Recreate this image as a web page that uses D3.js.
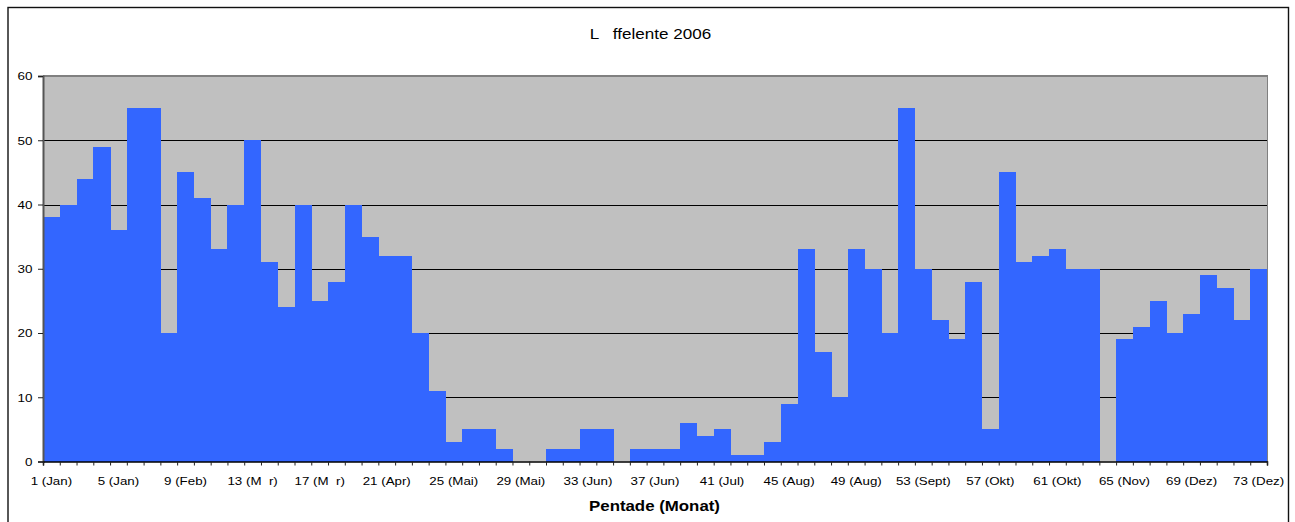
<!DOCTYPE html>
<html>
<head>
<meta charset="utf-8">
<script src="https://cdn.jsdelivr.net/npm/d3@7"></script>
<style>
  html, body { margin: 0; padding: 0; background: #fff; }
  svg { display: block; }
  text { font-family: "Liberation Sans", Arial, sans-serif; white-space: pre; }
</style>
</head>
<body>
<script>
// ---- data ----
const title = "L   ffelente 2006";
const xTitle = "Pentade (Monat)";
const pentades = [1,2,3,4,5,6,7,8,9,10,11,12,13,14,15,16,17,18,19,20,21,22,23,24,25,26,27,28,29,30,31,32,33,34,35,36,37,38,39,40,41,42,43,44,45,46,47,48,49,50,51,52,53,54,55,56,57,58,59,60,61,62,63,64,65,66,67,68,69,70,71,72,73];
const values = [38,40,44,49,36,55,55,20,45,41,33,40,50,31,24,40,25,28,40,35,32,32,20,11,3,
                5,5,2,0,0,2,2,5,5,0,2,2,2,6,4,5,1,1,3,9,
                33,17,10,33,30,20,55,30,22,19,28,5,45,31,32,33,30,30,0,19,21,25,20,23,29,27,22,30];
const labelPentades = [1,5,9,13,17,21,25,29,33,37,41,45,49,53,57,61,65,69,73];
const labelTexts = ["1 (Jan)","5 (Jan)","9 (Feb)","13 (M  r)","17 (M  r)","21 (Apr)","25 (Mai)","29 (Mai)","33 (Jun)","37 (Jun)","41 (Jul)","45 (Aug)","49 (Aug)","53 (Sept)","57 (Okt)","61 (Okt)","65 (Nov)","69 (Dez)","73 (Dez)"];
const yTicks = [0,10,20,30,40,50,60];

// ---- layout ----
const W = 1295, H = 522;
const m = {left: 43, right: 1267, top: 76, bottom: 461.5};
const SX = 1.17; // horizontal text stretch of the original image

const svg = d3.select("body").append("svg").attr("width", W).attr("height", H);

// outer chart border
svg.append("rect").attr("x", 8).attr("y", 7.5).attr("width", 1280.5).attr("height", 530)
  .attr("fill", "#fff").attr("stroke", "#111").attr("stroke-width", 1.4);

const x = d3.scaleBand().domain(pentades).range([m.left, m.right]).padding(0);
const xl = d3.scaleLinear().domain([0, pentades.length]).range([m.left, m.right]);
const y = d3.scaleLinear().domain([0, 60]).range([m.bottom, m.top]);

// plot area
svg.append("rect").attr("x", m.left).attr("y", m.top)
  .attr("width", m.right - m.left).attr("height", m.bottom - m.top)
  .attr("fill", "#C0C0C0");

// gridlines
svg.append("g").selectAll("line").data(yTicks.filter(d => d > 0 && d < 60)).join("line")
  .attr("x1", m.left).attr("x2", m.right)
  .attr("y1", d => Math.round(y(d)) + 0.5).attr("y2", d => Math.round(y(d)) + 0.5)
  .attr("stroke", "#000").attr("stroke-width", 1);

// bars
svg.append("g").attr("shape-rendering", "crispEdges")
  .selectAll("rect").data(values).join("rect")
  .attr("x", (d, i) => x(pentades[i]))
  .attr("width", x.bandwidth() + 0.5)
  .attr("y", d => y(d))
  .attr("height", d => m.bottom - y(d))
  .attr("fill", "#3366FF");

// plot borders
svg.append("line").attr("x1", m.left).attr("x2", m.right + 1).attr("y1", m.top).attr("y2", m.top)
  .attr("stroke", "#808080").attr("stroke-width", 2);
svg.append("line").attr("x1", m.right + 0.5).attr("x2", m.right + 0.5).attr("y1", m.top).attr("y2", m.bottom)
  .attr("stroke", "#808080").attr("stroke-width", 1);

// y axis
const yAxis = svg.append("g").attr("transform", `translate(${m.left},0)`)
  .call(d3.axisLeft(y).tickValues(yTicks).tickSize(5).tickPadding(0).tickFormat(d3.format("d")));
yAxis.select(".domain").attr("stroke", "#555").attr("stroke-width", 2);
yAxis.selectAll(".tick line").attr("stroke", "#222");
yAxis.selectAll(".tick text")
  .attr("x", -9).attr("dy", "0.33em")
  .attr("transform", `scale(${SX},1)`)
  .attr("font-size", 11.5).attr("fill", "#000");

// x axis tick marks at category boundaries
const xTickAxis = svg.append("g").attr("transform", `translate(0,${m.bottom})`)
  .call(d3.axisBottom(xl).tickValues(d3.range(0, pentades.length + 1)).tickSize(4).tickFormat(""));
xTickAxis.select(".domain").attr("stroke", "#000").attr("stroke-width", 1.5);
xTickAxis.selectAll(".tick line").attr("stroke", "#222");

// x axis labels centered under labelled pentades
const xLabAxis = svg.append("g").attr("transform", `translate(0,${m.bottom})`)
  .call(d3.axisBottom(x).tickValues(labelPentades).tickSize(0).tickPadding(0)
    .tickFormat((d, i) => labelTexts[i]));
xLabAxis.select(".domain").remove();
xLabAxis.selectAll(".tick text")
  .attr("y", 23.5).attr("dy", 0)
  .attr("transform", `scale(${SX},1)`)
  .attr("font-size", 11.4).attr("fill", "#000");

// title
svg.append("text")
  .attr("transform", `translate(650.5,39) scale(${SX},1)`)
  .attr("text-anchor", "middle").attr("font-size", 14.6).attr("fill", "#000")
  .text(title);

// x axis title
svg.append("text")
  .attr("transform", `translate(654.5,511) scale(${SX},1)`)
  .attr("text-anchor", "middle").attr("font-size", 14.4).attr("font-weight", "bold").attr("fill", "#000")
  .text(xTitle);
</script>
</body>
</html>
